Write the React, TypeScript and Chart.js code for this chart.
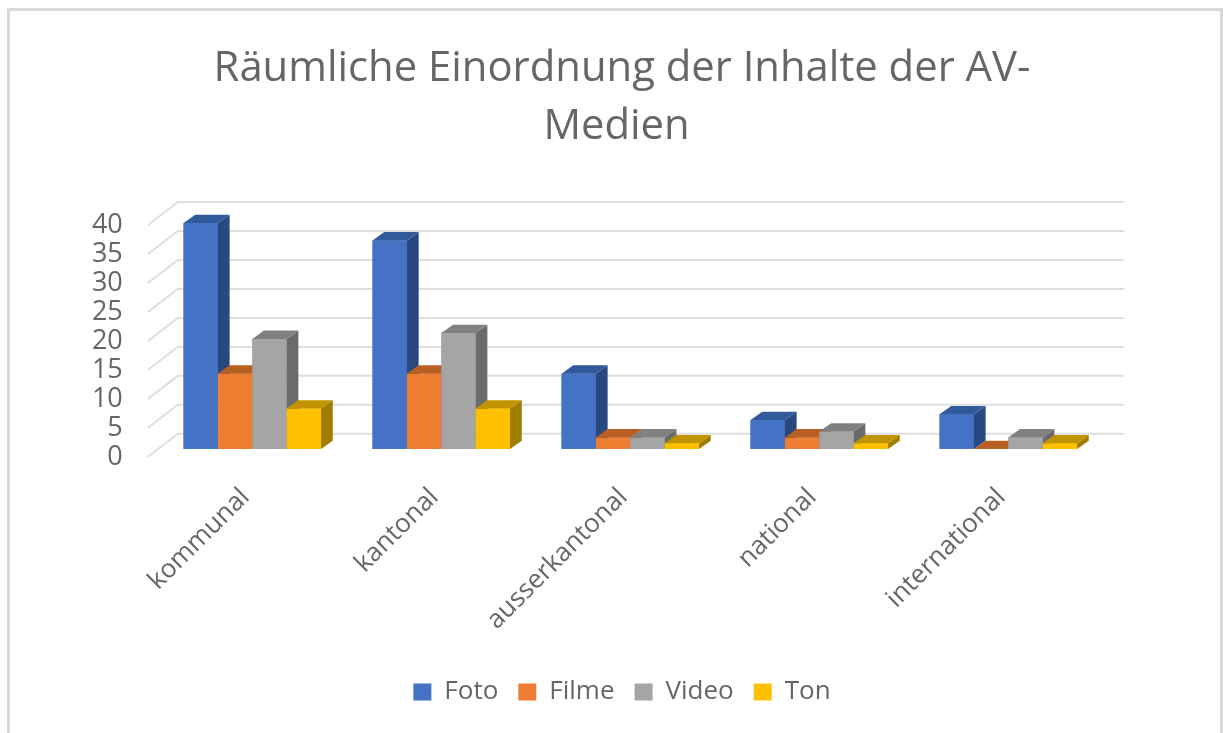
import React, { useEffect, useRef } from "react";
import { Chart, registerables } from "chart.js";

Chart.register(...registerables);

const categories = ["kommunal", "kantonal", "ausserkantonal", "national", "international"];
const foto = [39, 36, 13, 5, 6];
const filme = [13, 13, 2, 2, 0];
const video = [19, 20, 2, 3, 2];
const ton = [7, 7, 1, 1, 1];
const titleLines = ["Räumliche Einordnung der Inhalte der AV-", "Medien "];
const yTickStep = 5;
const yMax = 40;

const FONT = "'Open Sans', 'Noto Sans', sans-serif";
const TEXT = "#666666";
const shades: Record<string, { top: string; side: string }> = {
  "#4472C4": { top: "#315A9A", side: "#2A4880" },
  "#ED7D31": { top: "#B86024", side: "#A04F1C" },
  "#A5A5A5": { top: "#808080", side: "#6B6B6B" },
  "#FFC000": { top: "#C29400", side: "#A07C00" },
};
const DX = 11.7;
const DY = 8.3;

const poly = (ctx: CanvasRenderingContext2D, pts: number[][], fill: string) => {
  ctx.beginPath();
  pts.forEach(([x, y], i) => (i ? ctx.lineTo(x, y) : ctx.moveTo(x, y)));
  ctx.closePath();
  ctx.fillStyle = fill;
  ctx.fill();
};

const wall3d = {
  id: "wall3d",
  beforeDatasetsDraw(chart: any) {
    const { ctx, chartArea, scales } = chart;
    const y = scales.y;
    ctx.save();
    ctx.strokeStyle = "#DEDEDE";
    ctx.lineWidth = 2;
    y.ticks.forEach((t: any) => {
      const py = y.getPixelForValue(t.value);
      ctx.beginPath();
      ctx.moveTo(chartArea.left - 10, py + 8);
      ctx.lineTo(chartArea.left + 20, py - 15.2);
      ctx.lineTo(chartArea.right + 21, py - 15.2);
      ctx.stroke();
    });
    ctx.restore();
  },
  afterDatasetsDraw(chart: any) {
    const { ctx } = chart;
    ctx.save();
    chart.data.datasets.forEach((ds: any, i: number) => {
      const s = shades[ds.backgroundColor];
      chart.getDatasetMeta(i).data.forEach((b: any) => {
        const l = b.x - b.width / 2;
        const r = b.x + b.width / 2;
        b.draw(ctx);
        poly(ctx, [[r, b.y], [r + DX, b.y - DY], [r + DX, b.base - DY], [r, b.base]], s.side);
        poly(ctx, [[l, b.y], [l + DX, b.y - DY], [r + DX, b.y - DY], [r, b.y]], s.top);
      });
    });
    ctx.restore();
  },
};

export default function App() {
  const ref = useRef<HTMLCanvasElement>(null);
  useEffect(() => {
    document.body.style.margin = "0";
    const chart = new Chart(ref.current!, {
      type: "bar",
      data: {
        labels: categories,
        datasets: [
          { label: "Foto", data: foto, backgroundColor: "#4472C4" },
          { label: "Filme", data: filme, backgroundColor: "#ED7D31" },
          { label: "Video", data: video, backgroundColor: "#A5A5A5" },
          { label: "Ton", data: ton, backgroundColor: "#FFC000" },
        ],
      },
      plugins: [wall3d],
      options: {
        responsive: false,
        animation: false,
        layout: { padding: { left: 0, right: 0, top: 0, bottom: 18 } },
        datasets: { bar: { categoryPercentage: 0.7275, barPercentage: 1 } },
        plugins: {
          tooltip: { enabled: false },
          title: {
            display: true,
            text: titleLines,
            color: TEXT,
            font: { family: FONT, size: 41.8, weight: "normal", lineHeight: 1.39 },
            padding: { top: 40, bottom: 61 },
          },
          legend: {
            position: "bottom",
            labels: {
              color: TEXT,
              font: { family: FONT, size: 26 },
              boxWidth: 18,
              boxHeight: 17,
              padding: 20,
            },
          },
        },
        scales: {
          x: {
            grid: { display: false },
            border: { display: false },
            afterFit(scale: any) {
              scale.height = 210;
            },
            ticks: {
              minRotation: 45,
              maxRotation: 45,
              color: TEXT,
              padding: 25,
              labelOffset: -7,
              font: { family: FONT, size: 26 },
            },
          },
          y: {
            min: 0,
            max: yMax,
            grid: { display: false, drawTicks: false },
            border: { display: false },
            afterFit(scale: any) {
              scale.width = 136.8;
            },
            ticks: {
              stepSize: yTickStep,
              autoSkip: false,
              color: TEXT,
              padding: 35,
              labelOffset: 8,
              font: { family: FONT, size: 27 },
            },
          },
          y2: {
            position: "right",
            min: 0,
            max: yMax,
            grid: { display: false, drawTicks: false },
            border: { display: false },
            ticks: { display: false },
            afterFit(scale: any) {
              scale.width = 120.2;
            },
          },
        },
      },
    } as any);
    return () => chart.destroy();
  }, []);
  return (
    <div style={{ position: "relative", width: 1223, height: 733, overflow: "hidden", background: "#fff" }}>
      <div
        style={{
          position: "absolute",
          left: 7,
          top: 8,
          width: 1210,
          height: 800,
          border: "3px solid #D9D9D9",
        }}
      />
      <canvas ref={ref} width={1202} height={733} style={{ position: "absolute", left: 21, top: 0 }} />
    </div>
  );
}
